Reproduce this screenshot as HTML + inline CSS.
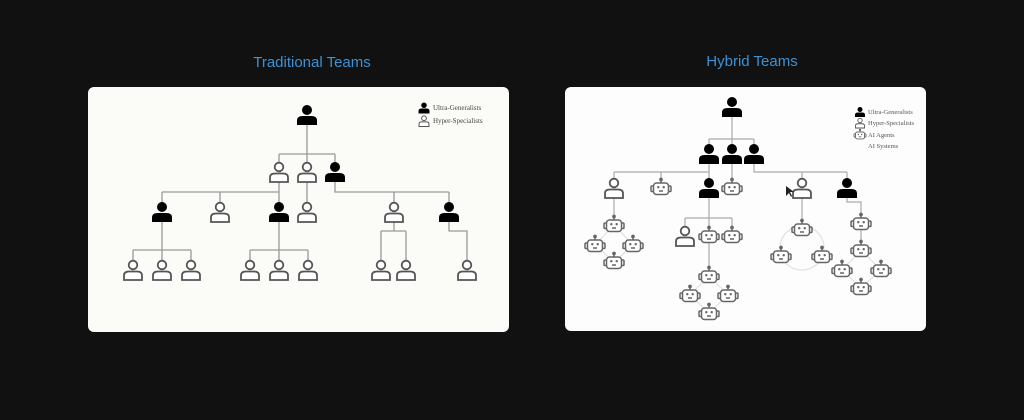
<!DOCTYPE html>
<html><head><meta charset="utf-8"><style>
html,body{margin:0;padding:0;background:#111111;width:1024px;height:420px;overflow:hidden}
</style></head><body>
<svg width="1024" height="420" viewBox="0 0 1024 420" xmlns="http://www.w3.org/2000/svg">
<defs>
<g id="pf"><circle cx="0" cy="-5" r="5" fill="#000"/><path d="M-10,10 L-10,5.5 Q-10,1 -4,1 L4,1 Q10,1 10,5.5 L10,10 Z" fill="#000"/></g>
<g id="po" fill="#fff" stroke="#555" stroke-width="1.8"><circle cx="0" cy="-5" r="4.3"/><path d="M-9,10 L-9,5.5 Q-9,1.5 -4,1.5 L4,1.5 Q9,1.5 9,5.5 L9,10 Z"/></g>
<g id="rb" stroke="#666" stroke-width="1.5" fill="#fff"><line x1="0" y1="-5" x2="0" y2="-8"/><circle cx="0" cy="-8.5" r="1.1" fill="#666"/><rect x="-10" y="-2" width="2.8" height="5.5" rx="1"/><rect x="7.2" y="-2" width="2.8" height="5.5" rx="1"/><rect x="-7.5" y="-5" width="15" height="11.5" rx="3"/><circle cx="-2.7" cy="-0.8" r="1.2" fill="#666" stroke="none"/><circle cx="2.7" cy="-0.8" r="1.2" fill="#666" stroke="none"/><line x1="-2" y1="3" x2="2" y2="3"/></g>
</defs>
<rect width="1024" height="420" fill="#111"/>
<text x="312" y="67" text-anchor="middle" font-family="Liberation Sans, sans-serif" font-size="15" fill="#3b92d6">Traditional Teams</text>
<text x="752" y="66" text-anchor="middle" font-family="Liberation Sans, sans-serif" font-size="15" fill="#3b92d6">Hybrid Teams</text>
<rect x="88" y="87" width="421" height="245" rx="6" fill="#fbfbf8"/>
<rect x="565" y="87" width="361" height="244" rx="6" fill="#fdfdfd"/>
<g stroke="#999" stroke-width="1.3" fill="none">
<path d="M307,120 V154 M279,154 H335 M279,154 V166 M307,154 V166 M335,154 V166"/>
<path d="M279,182 V192 M162,192 H279 M162,192 V204 M220,192 V204 M279,192 V204 M307,182 V204"/>
<path d="M335,180 V192 H449 M394,192 V204 M449,192 V204"/>
<path d="M162,220 V262 M133,250 H191 M133,250 V262 M191,250 V262"/>
<path d="M279,220 V262 M250,250 H308 M250,250 V262 M308,250 V262"/>
<path d="M394,220 V231 M381,231 H406 M381,231 V262 M406,231 V262"/>
<path d="M449,220 V231 H467 V262"/>
</g>
<use href="#pf" x="307" y="115"/>
<use href="#po" x="279" y="172"/><use href="#po" x="307" y="172"/><use href="#pf" x="335" y="172"/>
<use href="#pf" x="162" y="212"/><use href="#po" x="220" y="212"/><use href="#pf" x="279" y="212"/><use href="#po" x="307" y="212"/><use href="#po" x="394" y="212"/><use href="#pf" x="449" y="212"/>
<use href="#po" x="133" y="270"/><use href="#po" x="162" y="270"/><use href="#po" x="191" y="270"/><use href="#po" x="250" y="270"/><use href="#po" x="279" y="270"/><use href="#po" x="308" y="270"/><use href="#po" x="381" y="270"/><use href="#po" x="406" y="270"/><use href="#po" x="467" y="270"/>
<g transform="translate(424,108) scale(0.55)"><use href="#pf"/></g>
<g transform="translate(424,121) scale(0.55)"><use href="#po"/></g>
<g font-family="Liberation Serif, serif" font-size="7" fill="#444"><text x="433" y="110">Ultra-Generalists</text><text x="433" y="123">Hyper-Specialists</text></g>
<g stroke="#aaa" stroke-width="1.2" fill="none">
<path d="M732,112 V139 M709,139 H754 M709,139 V148 M732,139 V148 M754,139 V148"/>
<path d="M709,162 V172 M614,172 H709 M614,172 V181 M661,172 V180 M709,172 V182 M732,162 V180"/>
<path d="M754,162 V172 H847 M802,172 V181 M847,172 V181"/>
<path d="M614,197 V218"/>
<path d="M709,196 V268 M685,218 H732 M685,218 V229 M732,218 V229"/>
<path d="M802,197 V222"/>
<path d="M847,196 V202 H861 V216 M861,230 V243"/>
</g>
<g stroke="#e2e2e2" stroke-width="1.2" fill="none">
<path d="M614,225 L633,245 L614,262 L595,245 Z"/>
<path d="M709,276 L728,295 L709,313 L690,295 Z"/>
<circle cx="802" cy="248" r="22"/>
<path d="M861,250 L881,270 L861,288 L842,270 Z"/>
</g>
<use href="#pf" x="732" y="107"/>
<use href="#pf" x="709" y="154"/><use href="#pf" x="732" y="154"/><use href="#pf" x="754" y="154"/>
<use href="#po" x="614" y="188"/><use href="#rb" x="661" y="188"/><use href="#pf" x="709" y="188"/><use href="#rb" x="732" y="188"/><use href="#po" x="802" y="188"/><use href="#pf" x="847" y="188"/>
<use href="#rb" x="614" y="225"/><use href="#rb" x="595" y="245"/><use href="#rb" x="633" y="245"/><use href="#rb" x="614" y="262"/>
<use href="#po" x="685" y="236"/><use href="#rb" x="709" y="236"/><use href="#rb" x="732" y="236"/>
<use href="#rb" x="709" y="276"/><use href="#rb" x="690" y="295"/><use href="#rb" x="728" y="295"/><use href="#rb" x="709" y="313"/>
<use href="#rb" x="802" y="229"/><use href="#rb" x="781" y="256"/><use href="#rb" x="822" y="256"/>
<use href="#rb" x="861" y="223"/><use href="#rb" x="861" y="250"/><use href="#rb" x="842" y="270"/><use href="#rb" x="881" y="270"/><use href="#rb" x="861" y="288"/>
<path d="M786,186 L786,196 L789,193 L791,197 L792,196 L790,192 L794,192 Z" fill="#222"/>
<g transform="translate(860,112) scale(0.5)"><use href="#pf"/></g>
<g transform="translate(860,123) scale(0.5)"><use href="#po"/></g>
<g transform="translate(860,135) scale(0.6)"><use href="#rb"/></g>
<g font-family="Liberation Serif, serif" font-size="6.5" fill="#555"><text x="868" y="114">Ultra-Generalists</text><text x="868" y="125">Hyper-Specialists</text><text x="868" y="137">AI Agents</text><text x="868" y="148">AI Systems</text></g>
</svg>
</body></html>
